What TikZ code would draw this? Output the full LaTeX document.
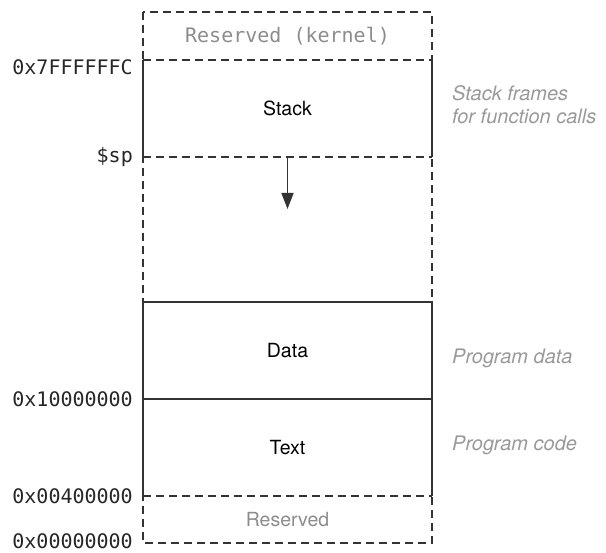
\documentclass[tikz,border=0pt]{standalone}
\usepackage{fontspec}
\setmainfont{TeX Gyre Heros}
\newfontfamily\addrfont{DejaVu Sans Mono}
\usetikzlibrary{positioning,arrows.meta}
\definecolor{linegray}{HTML}{333333}
\definecolor{softgray}{HTML}{8C8C8C}
\definecolor{notegray}{HTML}{999999}

\begin{document}
\begin{tikzpicture}[node distance=0pt,
		region/.style={minimum width=289pt,inner sep=0pt,outer sep=0pt,font=\fontsize{19.5}{22}\selectfont},
		reserved/.style={region,text=softgray},
		addr/.style={font=\addrfont\fontsize{20}{24}\selectfont,inner sep=0pt,text=black!85},
		note/.style={font=\itshape\fontsize{20}{23.3}\selectfont,text=notegray,align=left,inner sep=0pt},
		wall/.style={draw=linegray,line width=1.6pt},
		gap/.style={wall,dash pattern=on 8pt off 5pt}]
	\useasboundingbox (0,0) rectangle (606pt,-553pt);
	\node[reserved,font=\addrfont\fontsize{20}{24}\selectfont,minimum height=48pt,anchor=north west] (kernel) at (143pt,-12pt) {Reserved (kernel)};
	\node[region,minimum height=97pt] (stack)[below=of kernel] {Stack};
	\node[region,minimum height=145pt] (free)[below=of stack] {};
	\node[region,minimum height=97pt] (data)[below=of free] {Data};
	\node[region,minimum height=97pt] (text)[below=of data] {Text};
	\node[reserved,minimum height=47pt] (resv)[below=of text] {Reserved};

	\draw[gap] (kernel.north west) rectangle (resv.south east);
	\draw[wall] (stack.north west) -- (stack.south west) (stack.north east) -- (stack.south east);
	\draw[gap] (stack.north west) -- (stack.north east) (stack.south west) -- (stack.south east);
	\draw[wall] (text.south west) |- (data.north east) |- (text.south east);
	\draw[wall] (data.south west) -- (data.south east);
	\draw[gap] (text.south west) -- (text.south east);

	\coordinate[below=52pt of stack.south] (grow);
	\draw[wall,-{Triangle[length=16pt,width=12pt]}] (stack.south) -- (grow);

	\node[addr] (stacktop)[below left=-1pt and 10pt of stack.north west] {0x7FFFFFFC};
	\node[addr] (sp)[left=10pt of stack.south west] {\$sp};
	\node[addr] (database)[left=10pt of data.south west] {0x10000000};
	\node[addr] (textbase)[left=10pt of text.south west] {0x00400000};
	\node[addr,yshift=2pt] (zero)[left=10pt of resv.south west] {0x00000000};

	\node[note,yshift=4pt] (frames)[right=20pt of stack.east] {Stack frames\\for function calls};
	\node[note,yshift=-7.7pt] (pdata)[right=20pt of data.east] {Program data};
	\node[note,yshift=2.6pt] (pcode)[right=20pt of text.east] {Program code};
\end{tikzpicture}
\end{document}
